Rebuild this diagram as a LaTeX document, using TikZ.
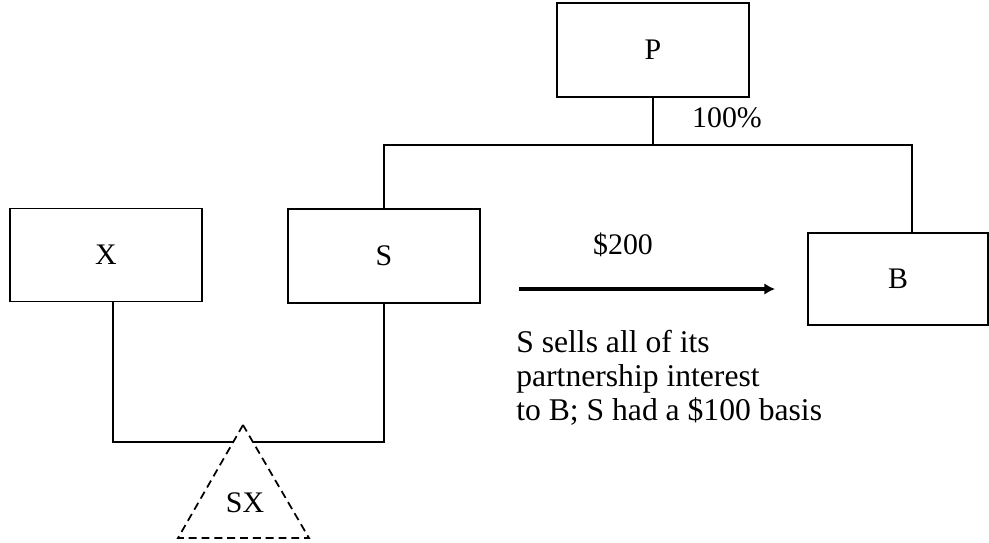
\documentclass[tikz,border=0pt]{standalone}
\usepackage{fontspec}
\setmainfont{Liberation Serif}
\usetikzlibrary{arrows.meta}
\begin{document}
\begin{tikzpicture}[x=0.02cm,y=-0.02cm,font=\fontsize{17}{19.5}\selectfont,>=latex]
\tikzset{
  entity/.style={draw,line width=1.1pt,minimum width=3.84cm,minimum height=1.88cm,inner sep=0pt},
  link/.style={line width=1.1pt},
  pship/.style={line width=1pt,dash pattern=on 4.5pt off 2.8pt},
  sale/.style={line width=2.8pt,-{Latex[length=6pt,width=6.5pt]}}
}
\useasboundingbox (0,0) rectangle (989,542);

% Parent and its two subsidiaries
\node[entity] (p) at (653,50) {P};
\node[entity] (s) at (384,256) {S};
\node[entity,minimum width=3.6cm,minimum height=1.84cm] (b) at (898,279) {B};
\node[entity,minimum height=1.86cm] (x) at (106,255) {X};
\coordinate (bus) at (653,145);
\coordinate (b top) at (912,233);
\draw[link] (p) -- (bus);
\draw[link] (s.north) |- (bus) -| (b top);
\node (own) at (727,118) {100\%};

% Sale of the partnership interest
\coordinate (sale start) at (519,289);
\coordinate (sale end) at (775,289);
\draw[sale] (sale start) -- (sale end);
\node (price) at (623,245) {\$200};
\node[anchor=north west,inner sep=0pt,align=left,font=\fontsize{18}{19.4}\selectfont] (note) at (516,330)
  {S sells all of its\\partnership interest\\to B; S had a \$100 basis};

% Partnership SX
\coordinate (apex) at (243,425);
\coordinate (base left) at (178,538);
\coordinate (base right) at (309,538);
\draw[pship] (apex) -- (base left) -- (base right) -- cycle;
\node (sx) at (245,503) {SX};
\coordinate (cut left) at (233,442); % where the sides cross the line
\coordinate (cut right) at (253,442);
\draw[link] ([xshift=0.14cm]x.south) |- (cut left);
\draw[link] (s.south) |- (cut right);

\end{tikzpicture}
\end{document}
